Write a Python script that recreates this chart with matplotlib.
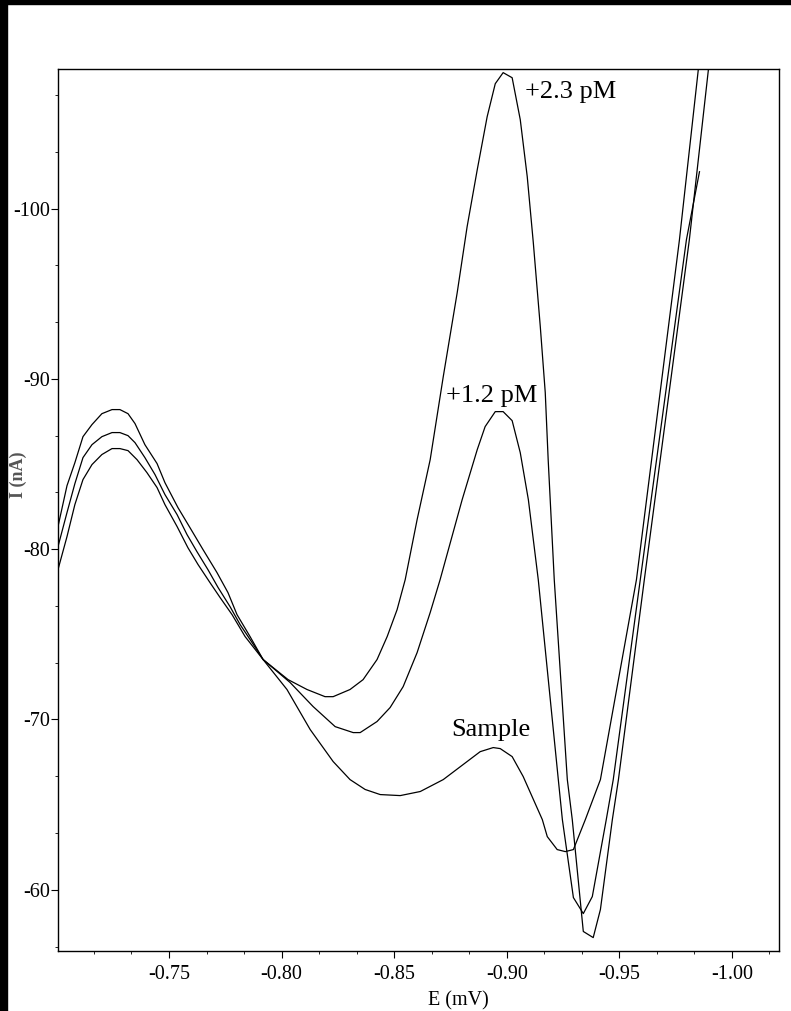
import numpy as np
import matplotlib
matplotlib.use("Agg")
import matplotlib.pyplot as plt
from matplotlib.patches import Rectangle
from matplotlib.ticker import MultipleLocator, AutoMinorLocator, FuncFormatter

plt.rcParams['font.family'] = ['Liberation Serif', 'DejaVu Serif']

# potential (V, stored as negative) and current (nA)
e_sample = [-0.7007, -0.7047, -0.7082, -0.7118, -0.7158, -0.7202, -0.7247, -0.7282, -0.7318, -0.7349,
            -0.7393, -0.7447, -0.7482, -0.7540, -0.7593, -0.7651, -0.7713, -0.7762, -0.7802, -0.7860,
            -0.7918, -0.8024, -0.8127, -0.8229, -0.8304, -0.8371, -0.8438, -0.8527, -0.8616, -0.8718,
            -0.8824, -0.8882, -0.8940, -0.8971, -0.9024, -0.9073, -0.9158, -0.9180, -0.9224, -0.9260,
            -0.9296, -0.9349, -0.9416, -0.9576, -0.9767, -0.9856]
i_sample = [-81.33, -83.73, -85.08, -86.61, -87.32, -87.96, -88.20, -88.20, -87.96, -87.38,
            -86.14, -85.03, -83.91, -82.44, -81.27, -79.98, -78.63, -77.45, -76.16, -74.87,
            -73.52, -71.76, -69.41, -67.53, -66.47, -65.89, -65.59, -65.53, -65.77, -66.47,
            -67.53, -68.11, -68.35, -68.29, -67.82, -66.65, -64.12, -63.12, -62.36, -62.24,
            -62.36, -64.12, -66.47, -78.21, -98.18, -108.80]

e_12 = [-0.7007, -0.7047, -0.7082, -0.7118, -0.7158, -0.7202, -0.7247, -0.7282, -0.7318, -0.7349,
        -0.7393, -0.7438, -0.7482, -0.7536, -0.7580, -0.7624, -0.7673, -0.7718, -0.7771, -0.7816,
        -0.7869, -0.7918, -0.8038, -0.8140, -0.8238, -0.8318, -0.8349, -0.8424, -0.8482, -0.8540,
        -0.8602, -0.8660, -0.8704, -0.8802, -0.8869, -0.8904, -0.8949, -0.8984, -0.9024, -0.9060,
        -0.9096, -0.9140, -0.9229, -0.9247, -0.9296, -0.9340, -0.9380, -0.9442, -0.9473, -0.9593,
        -0.9798, -0.9856]
i_12 = [-80.15, -82.15, -83.85, -85.38, -86.14, -86.61, -86.85, -86.85, -86.67, -86.26,
        -85.38, -84.38, -83.21, -82.03, -80.86, -79.86, -78.80, -77.75, -76.63, -75.57,
        -74.52, -73.52, -72.17, -70.76, -69.58, -69.23, -69.23, -69.88, -70.70, -71.93,
        -73.93, -76.28, -78.21, -82.91, -85.85, -87.20, -88.08, -88.08, -87.55, -85.67,
        -82.91, -78.21, -66.47, -64.12, -59.54, -58.60, -59.60, -64.12, -66.47, -78.21,
        -98.18, -102.17]

e_23 = [-0.7007, -0.7047, -0.7082, -0.7118, -0.7158, -0.7202, -0.7247, -0.7282, -0.7318, -0.7358,
        -0.7402, -0.7447, -0.7482, -0.7536, -0.7584, -0.7629, -0.7682, -0.7727, -0.7780, -0.7838,
        -0.7918, -0.8029, -0.8113, -0.8193, -0.8229, -0.8304, -0.8362, -0.8424, -0.8469, -0.8513,
        -0.8549, -0.8602, -0.8660, -0.8718, -0.8780, -0.8824, -0.8869, -0.8913, -0.8949, -0.8984,
        -0.9024, -0.9060, -0.9091, -0.9118, -0.9149, -0.9171, -0.9184, -0.9211, -0.9269, -0.9291,
        -0.9340, -0.9384, -0.9416, -0.9469, -0.9496, -0.9611, -0.9811, -0.9896]
i_23 = [-78.80, -80.74, -82.62, -84.09, -84.97, -85.56, -85.91, -85.91, -85.79, -85.26,
        -84.50, -83.62, -82.62, -81.33, -80.09, -79.10, -78.04, -77.16, -76.16, -74.87,
        -73.52, -72.34, -71.76, -71.34, -71.34, -71.76, -72.34, -73.52, -74.87, -76.45,
        -78.21, -81.74, -85.26, -90.13, -95.07, -98.94, -102.29, -105.40, -107.34, -107.99,
        -107.69, -105.23, -101.88, -98.00, -93.07, -89.20, -85.26, -78.21, -66.47, -64.12,
        -57.55, -57.19, -58.84, -64.12, -66.47, -78.21, -98.18, -108.22]

labels = ['Sample', '+1.2 pM', '+2.3 pM']
label_pos = [(-0.8931, -69.41), (-0.8931, -89.02), (-0.9285, -106.87)]

fig = plt.figure(figsize=(7.91, 10.11), dpi=100)
ax = fig.add_axes([0.0733, 0.0593, 0.9115, 0.8724])

for e, i in [(e_sample, i_sample), (e_12, i_12), (e_23, i_23)]:
    ax.plot(e, i, color='black', linewidth=0.9)

for txt, (x, y) in zip(labels, label_pos):
    ax.text(x, y, txt, fontsize=19, ha='center', va='center')

ax.set_xlim(-0.7007, -1.0209)
ax.set_ylim(-56.4, -108.2)

ax.xaxis.set_major_locator(MultipleLocator(0.05))
ax.yaxis.set_major_locator(MultipleLocator(10))
ax.xaxis.set_minor_locator(AutoMinorLocator(3))
ax.yaxis.set_minor_locator(AutoMinorLocator(3))
ax.xaxis.set_major_formatter(FuncFormatter(lambda v, p: '%.2f' % v))
ax.yaxis.set_major_formatter(FuncFormatter(lambda v, p: '%d' % round(v)))

ax.tick_params(which='major', direction='out', length=5, width=0.8, labelsize=14.5)
ax.tick_params(axis='x', which='major', pad=5)
ax.tick_params(axis='y', which='major', pad=1)
ax.tick_params(which='minor', direction='out', length=2, width=0.6)
for s in ax.spines.values():
    s.set_linewidth(1.0)

ax.set_xlabel('E (mV)', fontsize=14.5)
ax.xaxis.set_label_coords(0.555, -0.045)
ax.set_ylabel('I (nA)', fontsize=13, color='#555555', fontweight='bold')
ax.yaxis.set_label_coords(-0.043, 0.54)

# dark strips along the left and top edges of the scan
fig.add_artist(Rectangle((0, 0), 7 / 791, 1, transform=fig.transFigure, color='black'))
fig.add_artist(Rectangle((0, 1 - 4 / 1011), 1, 4 / 1011, transform=fig.transFigure, color='black'))

fig.savefig('out.png', dpi=100)
